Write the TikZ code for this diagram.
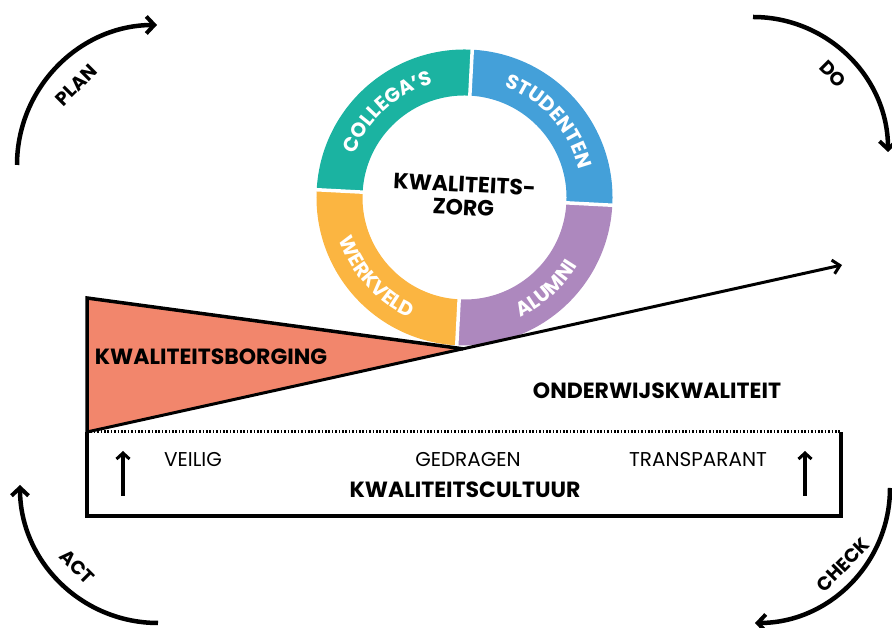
\documentclass[tikz,border=0pt]{standalone}
\usepackage{fontspec}
\setmainfont{Poppins}
\usetikzlibrary{arrows.meta,decorations.text,calc}
\definecolor{cteal}{HTML}{1BB3A1}
\definecolor{cblue}{HTML}{44A0D9}
\definecolor{cpurple}{HTML}{AD88BE}
\definecolor{cyellow}{HTML}{FBB541}
\definecolor{csalmon}{HTML}{F2866C}
\newcommand{\ringfnt}{\bfseries\fontsize{20}{22}\selectfont}
\begin{document}
\begin{tikzpicture}[x=1pt,y=1pt,
  lbl/.style={font=\bfseries\fontsize{22}{23}\selectfont},
  sublbl/.style={font=\fontsize{20}{22}\selectfont},
  cyc/.style={line width=4.5pt,-{Straight Barb[length=8pt,width=17pt,line width=4pt]}},
  cyclbl/.style={font=\bfseries\fontsize{19}{21}\selectfont},
  seg/.style={line width=46pt},
  gap/.style={white,line width=3.5pt},
  upar/.style={line width=3.5pt,-{Straight Barb[length=6pt,width=13pt,line width=3pt]}},
  ringtxt/.style={decorate,decoration={text along path,text align=center,text color=white,text={|\ringfnt|#1}}},
]
\useasboundingbox (0,0) rectangle (892,628);
\coordinate (c) at (464.5,430.5);
% ring segments
\draw[seg,cblue]   (c) ++(-3:125) arc[start angle=-3,end angle=87,radius=125];
\draw[seg,cteal]   (c) ++(87:125) arc[start angle=87,end angle=177,radius=125];
\draw[seg,cyellow] (c) ++(177:125) arc[start angle=177,end angle=267,radius=125];
\draw[seg,cpurple] (c) ++(267:125) arc[start angle=267,end angle=357,radius=125];
\foreach \a in {87,177,267,357}{\draw[gap] ($(c)+(\a:100)$) -- ($(c)+(\a:150)$);}
% ring texts
\path[ringtxt={COLLEGA’S}] (c) ++(177:118) arc[start angle=177,end angle=87,radius=118];
\path[ringtxt={STUDENTEN}] (c) ++(87:118) arc[start angle=87,end angle=-3,radius=118];
\path[ringtxt={WERKVELD}] (c) ++(177:132) arc[start angle=177,end angle=267,radius=132];
\path[ringtxt={ALUMNI}] (c) ++(267:132) arc[start angle=267,end angle=357,radius=132];
\node[lbl,align=center,rotate=-3] (kz) at (464,432) {KWALITEITS-\\ZORG};
% triangle and rising line
\coordinate (tl) at (87,330);
\coordinate (bl) at (87,196);
\coordinate (tip) at (842,363);
\coordinate (apex) at ($(bl)!0.498!(tip)$);
\fill[csalmon] (tl) -- (apex) -- (bl) -- cycle;
\draw[line width=3.5pt,line join=miter] (bl) -- (tl) -- (apex);
\draw[line width=3pt,-{Straight Barb[length=7pt,width=14pt,line width=3pt]}] (bl) -- (tip);
\node[lbl] (kb) at (211,271) {KWALITEITSBORGING};
\node[lbl] (ok) at (657,237) {ONDERWIJSKWALITEIT};
% culture box
\coordinate (b1) at (87,112);
\coordinate (b2) at (841,112);
\coordinate (b3) at (841,196);
\draw[line width=4pt,line join=miter] (bl) -- (b1) -- (b2) -- (b3);
\draw[line width=3pt,dash pattern=on 1.6pt off 1.8pt] (bl) -- (b3);
\coordinate (la0) at (123,132);
\coordinate (la1) at (123,177);
\coordinate (ra0) at (805,132);
\coordinate (ra1) at (805,177);
\draw[upar] (la0) -- (la1);
\draw[upar] (ra0) -- (ra1);
\node[sublbl] (veilig) at (193,168) {VEILIG};
\node[sublbl] (gedragen) at (468,168) {GEDRAGEN};
\node[sublbl] (transp) at (698,168) {TRANSPARANT};
\node[lbl] (kc) at (465,138) {KWALITEITSCULTUUR};
% PDCA arcs
\coordinate (p0) at (17,463);
\draw[cyc] (p0) arc[start angle=180,end angle=90,radius=140];
\node[cyclbl,rotate=45] (plan) at (76,543) {PLAN};
\coordinate (d0) at (753,611);
\draw[cyc] (d0) arc[start angle=90,end angle=0,radius=135];
\node[cyclbl,rotate=-45] (do) at (833,554) {DO};
\coordinate (k0) at (890,140);
\draw[cyc] (k0) arc[start angle=0,end angle=-90,radius=135];
\node[cyclbl,rotate=45] (check) at (843,63) {CHECK};
\coordinate (a0) at (158,5);
\draw[cyc] (a0) arc[start angle=270,end angle=180,radius=138];
\node[cyclbl,rotate=-45] (act) at (77,61) {ACT};
\end{tikzpicture}
\end{document}
